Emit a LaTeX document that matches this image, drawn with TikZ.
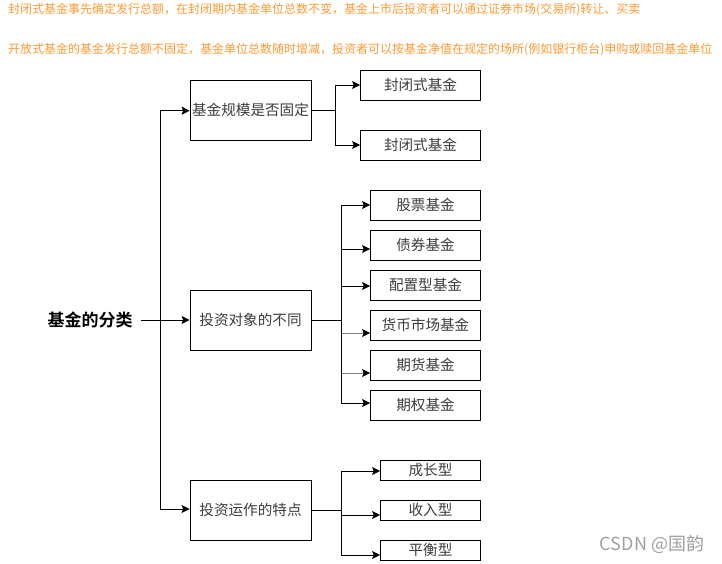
\documentclass[tikz,border=0pt]{standalone}
\usepackage{fontspec}
\setmainfont{Noto Sans CJK SC}[BoldFont={Noto Sans CJK SC Bold}]
\usetikzlibrary{arrows.meta,positioning}
\definecolor{noteor}{RGB}{255,153,51}
\definecolor{boxtxt}{RGB}{60,60,60}
\definecolor{wmark}{RGB}{160,160,160}
\definecolor{lgray}{RGB}{128,128,128}
\begin{document}
\begin{tikzpicture}[x=1pt,y=-1pt,
  note/.style={anchor=west,inner sep=0pt,text=noteor,font=\fontsize{12}{14}\selectfont},
  catbox/.style={draw,line width=0.8pt,minimum width=121pt,minimum height=60pt,inner sep=0pt,text=boxtxt,font=\fontsize{14.6}{16}\selectfont},
  leafA/.style={draw,line width=0.8pt,minimum width=120pt,minimum height=30pt,inner sep=0pt,text=boxtxt,font=\fontsize{14.6}{16}\selectfont},
  leafB/.style={draw,line width=0.8pt,minimum width=110pt,minimum height=30pt,inner sep=0pt,text=boxtxt,font=\fontsize{14.6}{16}\selectfont},
  leafC/.style={draw,line width=0.8pt,minimum width=100pt,minimum height=20pt,inner sep=0pt,text=boxtxt,font=\fontsize{14.6}{16}\selectfont},
  arr/.style={line width=0.9pt,-{Stealth[length=8pt,width=8pt,inset=1.5pt]}},
  garr/.style={line width=0.9pt,draw=lgray,-{Stealth[length=8pt,width=8pt,inset=1.5pt,color=black,fill=black]}}
]
\useasboundingbox (0,0) rectangle (722,564);
\node[note] (t1) at (8,10) {封闭式基金事先确定发行总额，在封闭期内基金单位总数不变，基金上市后投资者可以通过证券市场(交易所)转让、买卖};
\node[note] (t2) at (8,50) {开放式基金的基金发行总额不固定，基金单位总数随时增减，投资者可以按基金净值在规定的场所(例如银行柜台)申购或赎回基金单位};

\node[inner sep=0pt,font=\fontsize{17}{19}\selectfont\bfseries] (root) at (90,320) {基金的分类};

\node[catbox] (b1) at (250.5,110) {基金规模是否固定};
\node[catbox] (b2) at (250.5,320) {投资对象的不同};
\node[catbox] (b3) at (250.5,510) {投资运作的特点};

\node[leafA] (c11) at (420.5,85) {封闭式基金};
\node[leafA] (c12) at (420.5,145) {封闭式基金};

\node[leafB] (c21) at (425.5,205) {股票基金};
\node[leafB] (c22) at (425.5,245) {债券基金};
\node[leafB] (c23) at (425.5,285) {配置型基金};
\node[leafB] (c24) at (425.5,325) {货币市场基金};
\node[leafB] (c25) at (425.5,365) {期货基金};
\node[leafB] (c26) at (425.5,405) {期权基金};

\node[leafC] (c31) at (430.5,470) {成长型};
\node[leafC] (c32) at (430.5,510) {收入型};
\node[leafC] (c33) at (430.5,550) {平衡型};

\node[inner sep=0pt,text=wmark,font=\fontsize{18}{20}\selectfont] (wm) at (652,544) {CSDN @国韵};

\coordinate (tr) at (160.7,320);
\draw[arr] ([xshift=8pt]root.east) -- (b2.west);
\draw[arr] (tr) |- ([yshift=-0.7pt]b1.west);
\draw[arr] (tr) |- ([yshift=1pt]b3.west);

\draw[arr] (b1.east) -- ++(24,0) |- (c11.west);
\draw[arr] (b1.east) -- ++(24,0) |- (c12.west);

\draw[arr] (b2.east) -- ++(30,0) |- (c21.west);
\draw[arr] (b2.east) -- ++(30,0) |- ([yshift=-4pt]c22.west);
\draw[arr] (b2.east) -- ++(30,0) |- ([yshift=-1pt]c23.west);
\draw[garr] ([xshift=30pt,yshift=-13pt]b2.east) -- ([yshift=-8pt]c24.west);
\draw[garr] ([xshift=30pt,yshift=-53pt]b2.east) -- ([yshift=-8pt]c25.west);
\draw[arr] (b2.east) -- ++(30,0) |- ([yshift=2pt]c26.west);

\draw[arr] (b3.east) -- ++(30,0) |- ([yshift=-1pt]c31.west);
\draw[arr] (b3.east) -- ++(30,0) |- ([yshift=-5pt]c32.west);
\draw[arr] (b3.east) -- ++(30,0) |- ([yshift=-5pt]c33.west);
\end{tikzpicture}
\end{document}
